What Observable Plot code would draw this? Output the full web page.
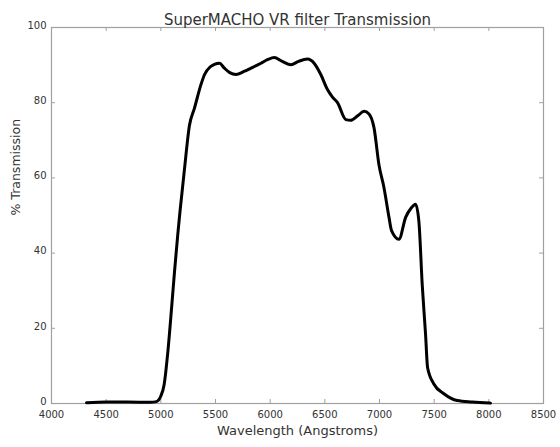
<!DOCTYPE html>
<html>
<head>
<meta charset="utf-8">
<script src="https://cdn.jsdelivr.net/npm/d3@7"></script>
<script src="https://cdn.jsdelivr.net/npm/@observablehq/plot@0.6"></script>
<style>
  html, body { margin: 0; padding: 0; background: #fff; }
  #chart { width: 560px; height: 447px; }
</style>
</head>
<body>
<div id="chart"></div>
<script>
const title = "SuperMACHO VR filter Transmission";
const xLabel = "Wavelength (Angstroms)";
const yLabel = "% Transmission";

const wavelength = [4320, 4500, 4700, 4900, 4960, 5000, 5030, 5065, 5100, 5125, 5155, 5175, 5215, 5262, 5307, 5369, 5400, 5450, 5490, 5536, 5581, 5630, 5688, 5760, 5825, 5916, 5980, 6037, 6110, 6190, 6260, 6342, 6402, 6463, 6524, 6570, 6616, 6692, 6737, 6800, 6859, 6904, 6950, 6995, 7041, 7087, 7110, 7178, 7239, 7290, 7330, 7360, 7391, 7421, 7440, 7497, 7589, 7711, 7850, 8015];
const transmission = [0.2, 0.4, 0.4, 0.3, 0.5, 2, 5, 14, 26, 35, 45, 51, 62, 74, 78.5, 85, 87.5, 89.5, 90.2, 90.5, 89.2, 88, 87.5, 88.3, 89.2, 90.5, 91.5, 92, 91, 90.1, 91, 91.6, 90.5, 87.5, 83.5, 81.5, 80, 75.5, 75.3, 76.5, 77.7, 77, 73.3, 63.5, 57.4, 49.5, 46, 43.7, 49.5, 52, 53, 48.5, 31.5, 18.5, 9.5, 5.2, 2.6, 0.8, 0.4, 0.1];

const xTicks = [4000, 4500, 5000, 5500, 6000, 6500, 7000, 7500, 8000, 8500];
const yTicks = [0, 20, 40, 60, 80, 100];

const data = wavelength.map((w, i) => ({w, t: transmission[i]}));

const W = 560, H = 447;
const mL = 51, mR = 17, mT = 27, mB = 44;
const plotH = H - mT - mB;
const plotW = W - mL - mR;
const tickLen = 4;
const axisColor = "#a0a0a0";
const textColor = "#333333";

const chart = Plot.plot({
  width: W,
  height: H,
  marginLeft: mL,
  marginRight: mR,
  marginTop: mT,
  marginBottom: mB,
  style: {fontFamily: "DejaVu Sans, sans-serif", background: "#fff", color: textColor},
  x: {domain: [4000, 8500], label: null},
  y: {domain: [0, 100], label: null},
  marks: [
    Plot.frame({stroke: axisColor, strokeWidth: 1.2}),
    Plot.tickX(xTicks, {x: d => d, stroke: axisColor, insetTop: plotH - tickLen}),
    Plot.tickX(xTicks, {x: d => d, stroke: axisColor, insetBottom: plotH - tickLen}),
    Plot.tickY(yTicks, {y: d => d, stroke: axisColor, insetRight: plotW - tickLen}),
    Plot.tickY(yTicks, {y: d => d, stroke: axisColor, insetLeft: plotW - tickLen}),
    Plot.axisX(xTicks, {tickSize: 0, tickPadding: 7, fontSize: 10, fill: textColor, label: null, tickFormat: d => String(d)}),
    Plot.axisY(yTicks, {tickSize: 0, tickPadding: 5, fontSize: 10, fill: textColor, label: null, tickFormat: d => String(d), dy: -2}),
    Plot.line(data, {x: "w", y: "t", stroke: "#000", strokeWidth: 3, curve: "monotone-x", strokeLinejoin: "round"}),
    Plot.text([title], {frameAnchor: "top", dy: -13, fontSize: 15, fill: textColor, text: d => d}),
    Plot.text([xLabel], {frameAnchor: "bottom", dy: 31, fontSize: 13, fill: textColor, text: d => d}),
    Plot.text([yLabel], {frameAnchor: "left", dx: -36, rotate: -90, fontSize: 12.5, fill: textColor, text: d => d})
  ]
});
document.getElementById("chart").appendChild(chart);
</script>
</body>
</html>
